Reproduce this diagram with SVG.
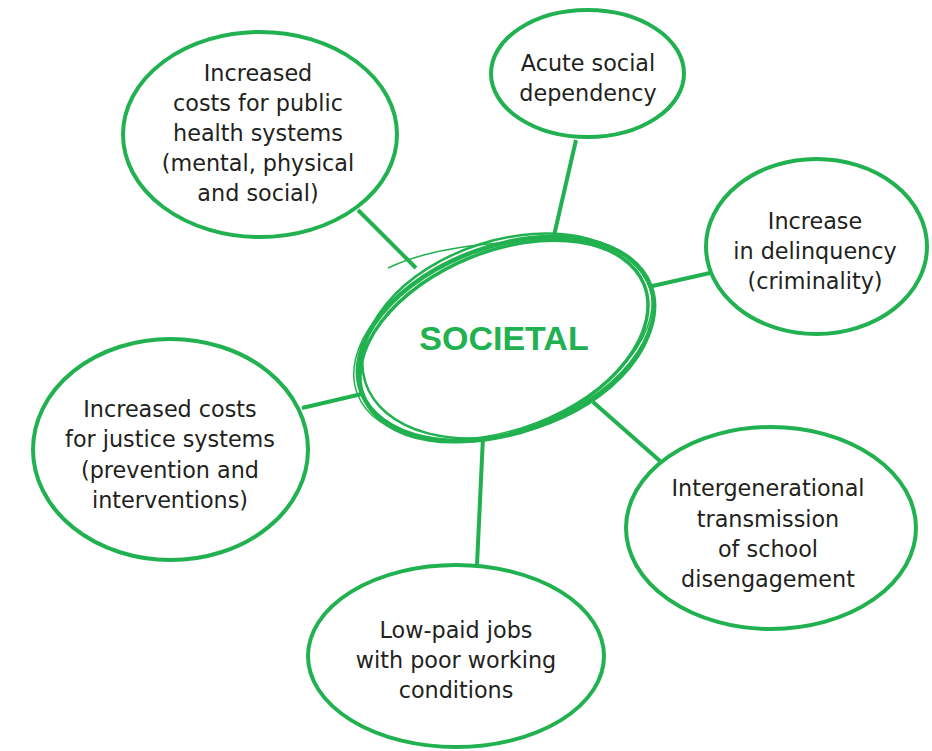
<svg xmlns="http://www.w3.org/2000/svg" width="932" height="751" viewBox="0 0 932 751">
<style>
.bub{fill:#fff;stroke:#22b150;stroke-width:4}
.con line{stroke:#22b150;stroke-width:4;stroke-linecap:butt}
.t{font-family:"DejaVu Sans","Open Sans",sans-serif;font-size:22.3px;fill:#231f20;text-anchor:middle}
.sk{fill:none;stroke:#22b150}
.title{font-family:"Liberation Sans","Arial",sans-serif;font-weight:bold;font-size:34px;fill:#22b150;text-anchor:middle}
</style>
<rect width="932" height="751" fill="#fff"/>
<g id="connectors" class="con">
<line x1="358" y1="210" x2="416" y2="268"/>
<line x1="576" y1="140" x2="553" y2="240"/>
<line x1="710" y1="273" x2="648" y2="287"/>
<line x1="302" y1="408" x2="366" y2="393"/>
<line x1="660" y1="461" x2="593" y2="402"/>
<line x1="483" y1="437" x2="477" y2="565"/>
</g>
<g id="n-health">
<ellipse class="bub" cx="260" cy="134.5" rx="137" ry="102.5"/>
<text class="t"><tspan x="258" y="81">Increased</tspan><tspan x="258" y="111">costs for public</tspan><tspan x="258" y="141">health systems</tspan><tspan x="258" y="171">(mental, physical</tspan><tspan x="258" y="201">and social)</tspan></text>
</g>
<g id="n-acute">
<ellipse class="bub" cx="587.5" cy="73.5" rx="96.5" ry="63.5"/>
<text class="t"><tspan x="588" y="71">Acute social</tspan><tspan x="588" y="101">dependency</tspan></text>
</g>
<g id="n-delinquency">
<ellipse class="bub" cx="816.5" cy="246.5" rx="110.5" ry="87.5"/>
<text class="t"><tspan x="815" y="229">Increase</tspan><tspan x="815" y="259">in delinquency</tspan><tspan x="815" y="289">(criminality)</tspan></text>
</g>
<g id="n-justice">
<ellipse class="bub" cx="170.5" cy="449.5" rx="137.5" ry="110.5"/>
<text class="t"><tspan x="170" y="417">Increased costs</tspan><tspan x="170" y="447">for justice systems</tspan><tspan x="170" y="478">(prevention and</tspan><tspan x="170" y="508">interventions)</tspan></text>
</g>
<g id="n-intergen">
<ellipse class="bub" cx="771" cy="528" rx="145" ry="101"/>
<text class="t"><tspan x="768" y="496">Intergenerational</tspan><tspan x="768" y="527">transmission</tspan><tspan x="768" y="557">of school</tspan><tspan x="768" y="587">disengagement</tspan></text>
</g>
<g id="n-lowpaid">
<ellipse class="bub" cx="456" cy="656" rx="148" ry="91"/>
<text class="t"><tspan x="456" y="638">Low-paid jobs</tspan><tspan x="456" y="668">with poor working</tspan><tspan x="456" y="698">conditions</tspan></text>
</g>
<g id="n-societal">
<ellipse cx="506" cy="339" rx="154" ry="93" transform="rotate(-20 506 339)" fill="#fff"/>
<ellipse class="sk" stroke-width="4.5" cx="506" cy="339" rx="154" ry="93" transform="rotate(-20 506 339)"/>
<ellipse class="sk" stroke-width="3.5" cx="504" cy="341" rx="151" ry="90" transform="rotate(-22 504 341)"/>
<ellipse class="sk" stroke-width="2.5" cx="508" cy="336" rx="150" ry="96" transform="rotate(-18 508 336)"/>
<ellipse class="sk" stroke-width="1.5" cx="503" cy="338" rx="156" ry="91" transform="rotate(-21 503 338)"/>
<path class="sk" stroke-width="1.5" d="M388 268 Q430 248 500 243"/>
<text class="title" x="504" y="350">SOCIETAL</text>
</g>
</svg>
